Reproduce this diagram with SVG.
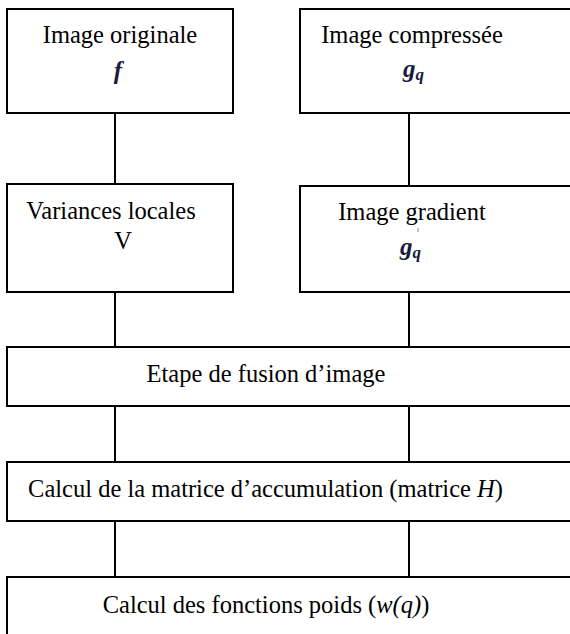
<svg xmlns="http://www.w3.org/2000/svg" width="570" height="634" viewBox="0 0 570 634">
<style>
.box{fill:#fff;stroke:#000;stroke-width:2}
.conn line{stroke:#000;stroke-width:2}
</style>
<rect width="570" height="634" fill="#fff"/>
<g class="conn" id="connectors">
<line x1="115" y1="113" x2="115" y2="184"/>
<line x1="409" y1="113" x2="409" y2="186"/>
<line x1="115" y1="292" x2="115" y2="347"/>
<line x1="409" y1="292" x2="409" y2="347"/>
<line x1="115" y1="406" x2="115" y2="462"/>
<line x1="409" y1="406" x2="409" y2="462"/>
<line x1="115" y1="521" x2="115" y2="577"/>
<line x1="409" y1="521" x2="409" y2="577"/>
</g>
<g id="n1">
<rect class="box" x="7" y="9" width="226" height="104"/>
<text x="120" y="43" font-family="Liberation Serif" font-size="24.5" text-anchor="middle">Image originale</text>
<text x="118" y="79" font-family="Liberation Serif" font-size="25" font-style="italic" font-weight="bold" fill="#1a1a40" text-anchor="middle">f</text>
</g>
<g id="n2">
<rect class="box" x="300" y="9" width="280" height="104"/>
<text x="412" y="43" font-family="Liberation Serif" font-size="24.5" text-anchor="middle">Image compressée</text>
<text x="403" y="77" font-family="Liberation Serif" font-size="25" font-style="italic" font-weight="bold" fill="#1a1a40">g<tspan font-size="17" dy="3">q</tspan></text>
</g>
<g id="n3">
<rect class="box" x="7" y="184" width="226" height="108"/>
<text x="111" y="219" font-family="Liberation Serif" font-size="24.5" text-anchor="middle">Variances locales</text>
<text x="123" y="249" font-family="Liberation Serif" font-size="24.5" text-anchor="middle">V</text>
</g>
<g id="n4">
<rect class="box" x="300" y="186" width="280" height="106"/>
<text x="412" y="220" font-family="Liberation Serif" font-size="24.5" text-anchor="middle">Image gradient</text>
<text x="400" y="255" font-family="Liberation Serif" font-size="25" font-style="italic" font-weight="bold" fill="#1a1a40">g<tspan font-size="17" dy="3">q</tspan></text>
<line x1="418" y1="228" x2="418" y2="232" stroke="#8080c0" stroke-width="1"/>
</g>
<g id="n5">
<rect class="box" x="7" y="347" width="573" height="59"/>
<text x="266" y="382" font-family="Liberation Serif" font-size="24.5" text-anchor="middle">Etape de fusion d’image</text>
</g>
<g id="n6">
<rect class="box" x="7" y="462" width="573" height="59"/>
<text x="265.5" y="497" font-family="Liberation Serif" font-size="24.5" text-anchor="middle">Calcul de la matrice d’accumulation (matrice <tspan font-style="italic">H</tspan>)</text>
</g>
<g id="n7">
<rect class="box" x="7" y="577" width="573" height="70"/>
<text x="266" y="613" font-family="Liberation Serif" font-size="24.5" text-anchor="middle">Calcul des fonctions poids (<tspan font-style="italic">w(q)</tspan>)</text>
</g>
</svg>
